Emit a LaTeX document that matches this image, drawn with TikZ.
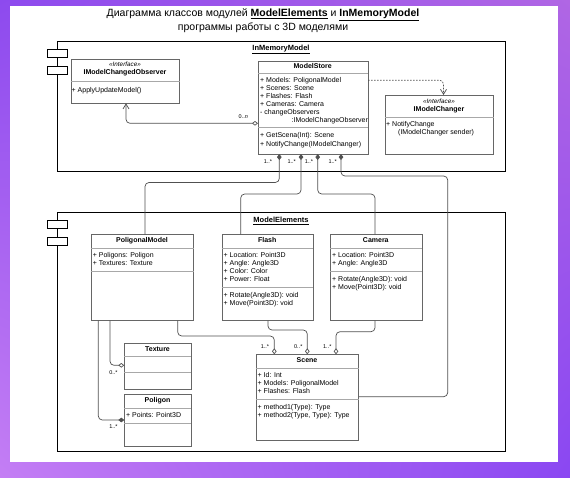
\documentclass[tikz,border=0pt]{standalone}
\usepackage{fontspec}
\setmainfont{Liberation Sans}
\usetikzlibrary{arrows.meta,calc,shadings}

\definecolor{bgUL}{HTML}{8D4AEE}
\definecolor{bgUR}{HTML}{B066E4}
\definecolor{bgLL}{HTML}{C47EF4}
\definecolor{bgLR}{HTML}{8A47F2}
\definecolor{boxgray}{HTML}{666666}
\definecolor{sepgray}{HTML}{A8A8A8}
\definecolor{linegray}{HTML}{505050}

\newcounter{lnc}
% one line of class text; optional style, position, content
\newcommand\cl[3][]{\stepcounter{lnc}\node[txt,#1] (l\arabic{lnc}) at (#2) {#3};}
% compartment separator of a class box at a given offset below its top
\newcommand\csep[2]{\draw[sepline] ($(#1.north west)+(0,#2)$) -- ($(#1.north east)+(0,#2)$);}

\tikzset{
  classbox/.style={draw=boxgray, line width=0.6pt, fill=white, inner sep=0pt, anchor=north west},
  sepline/.style={draw=sepgray, line width=0.6pt},
  conn/.style={draw=linegray, line width=0.7pt, rounded corners=4pt},
  txt/.style={font=\fontsize{7}{8}\selectfont, inner sep=0pt, anchor=west, text height=5.2pt, text depth=1.6pt},
  hdr/.style={font=\fontsize{7}{8}\selectfont\bfseries, anchor=center},
  stereo/.style={font=\fontsize{6.3}{7}\selectfont\itshape, anchor=center},
  mult/.style={font=\fontsize{5.5}{6}\selectfont, inner sep=0pt},
  pkgframe/.style={draw=black, line width=1pt, inner sep=0pt, anchor=north west},
  pkgicon/.style={draw=black, line width=0.9pt, fill=white, inner sep=0pt, anchor=north west,
                  minimum width=20pt, minimum height=8pt},
  pkglabel/.style={font=\fontsize{7.5}{8}\selectfont\bfseries},
  comp/.style={{Diamond[length=6pt,width=4.6pt]}-},
  aggr/.style={-{Diamond[fill=white,length=6pt,width=4.6pt]}},
  openhead/.style={-{Straight Barb[length=5pt,width=6pt]}},
}

\begin{document}
\begin{tikzpicture}[x=1pt,y=-1pt]
\useasboundingbox (0,0) rectangle (570,477);

% backdrop and sheet
\shade[upper left=bgUL, upper right=bgUR, lower left=bgLL, lower right=bgLR] (0,0) rectangle (570,477);
\fill[white] (10,6) rectangle (558,462);

% heading
\node[font=\fontsize{10.5}{12}\selectfont] (title1) at (263,15)
  {Диаграмма классов модулей \textbf{\underline{ModelElements}} и \textbf{\underline{InMemoryModel}}};
\node[font=\fontsize{10.5}{12}\selectfont] (title2) at (263,27.5) {программы работы с 3D моделями};

% packages
\node[pkgframe, minimum width=448pt, minimum height=130pt] (pkgA) at (57,41) {};
\node[pkgicon] (pkgAi1) at (47.3,48.5) {};
\node[pkgicon] (pkgAi2) at (47.3,65.5) {};
\node[pkglabel] (pkgAl) at (281,49.5) {\underline{InMemoryModel}};

\node[pkgframe, minimum width=448pt, minimum height=238.8pt] (pkgB) at (57,211.7) {};
\node[pkgicon] (pkgBi1) at (47.3,219.5) {};
\node[pkgicon] (pkgBi2) at (47.3,236.7) {};
\node[pkglabel] (pkgBl) at (281,220.7) {\underline{ModelElements}};

% ---- InMemoryModel classes ----
\node[classbox, minimum width=108.3pt, minimum height=43.7pt] (ioc) at (70.7,59) {};
\csep{ioc}{22.3}
\cl[stereo]{125,64.7}{<<Interface>>}
\cl[hdr]{125,73}{IModelChangedObserver}
\cl{71.5,90.7}{+ ApplyUpdateModel()}

\node[classbox, minimum width=109.5pt, minimum height=93pt] (ms) at (258,60.5) {};
\csep{ms}{12.8}
\csep{ms}{67.2}
\cl[hdr]{312.7,66.7}{ModelStore}
\cl{260,80.7}{+ Models: PoligonalModel}
\cl{260,88.7}{+ Scenes: Scene}
\cl{260,96.7}{+ Flashes: Flash}
\cl{260,104.8}{+ Cameras: Camera}
\cl{260,112.8}{- changeObservers}
\cl{291.5,120.7}{:IModelChangeObserver}
\cl{260,136}{+ GetScena(Int): Scene}
\cl{260,144.2}{+ NotifyChange(IModelChanger)}

\node[classbox, minimum width=108pt, minimum height=59pt] (imc) at (385,95) {};
\csep{imc}{22}
\cl[stereo]{439,101.7}{<<Interface>>}
\cl[hdr]{439,109.3}{IModelChanger}
\cl{386,124.3}{+ NotifyChange}
\cl{398,132.3}{(IModelChanger sender)}

% ---- ModelElements classes ----
\node[classbox, minimum width=102.6pt, minimum height=85.7pt] (pm) at (90.7,234.3) {};
\csep{pm}{14}
\csep{pm}{36.7}
\cl[hdr]{142,240.9}{PoligonalModel}
\cl{92.7,256}{+ Poligons: Poligon}
\cl{92.7,263.6}{+ Textures: Texture}

\node[classbox, minimum width=91pt, minimum height=85.7pt] (fl) at (221.7,234.3) {};
\csep{fl}{14}
\csep{fl}{53}
\cl[hdr]{267.2,240.9}{Flash}
\cl{223.5,256}{+ Location: Point3D}
\cl{223.5,263.8}{+ Angle: Angle3D}
\cl{223.5,271.6}{+ Color: Color}
\cl{223.5,279.4}{+ Power: Float}
\cl{223.5,295.6}{+ Rotate(Angle3D): void}
\cl{223.5,303.4}{+ Move(Point3D): void}

\node[classbox, minimum width=91.7pt, minimum height=85.7pt] (cam) at (330,234.3) {};
\csep{cam}{14}
\csep{cam}{37.4}
\cl[hdr]{375.8,240.9}{Camera}
\cl{332,256}{+ Location: Point3D}
\cl{332,263.8}{+ Angle: Angle3D}
\cl{332,279.4}{+ Rotate(Angle3D): void}
\cl{332,287.2}{+ Move(Point3D): void}

\node[classbox, minimum width=66.4pt, minimum height=46.3pt] (tex) at (124.3,342.7) {};
\csep{tex}{13.3}
\csep{tex}{29.6}
\cl[hdr]{157.5,349.4}{Texture}

\node[classbox, minimum width=66.4pt, minimum height=52pt] (pol) at (124.3,394) {};
\csep{pol}{14.3}
\csep{pol}{29.3}
\cl[hdr]{157.5,400.9}{Poligon}
\cl{126,416}{+ Points: Point3D}

\node[classbox, minimum width=102.6pt, minimum height=85.7pt] (sc) at (255.7,354.3) {};
\csep{sc}{14}
\csep{sc}{45}
\cl[hdr]{307,360.9}{Scene}
\cl{257.5,376}{+ Id: Int}
\cl{257.5,383.9}{+ Models: PoligonalModel}
\cl{257.5,391.8}{+ Flashes: Flash}
\cl{257.5,407.4}{+ method1(Type): Type}
\cl{257.5,415.6}{+ method2(Type, Type): Type}

% ---- connectors ----
% observers of the store
\draw[conn, {Diamond[fill=white,length=6pt,width=4.6pt]}-{Straight Barb[length=5pt,width=6pt]}]
  ($(ms.north west)+(0,62.8)$) -- (126,123.3) -- ($(ioc.south west)+(55.3,0)$);
\node[mult] (m0) at (243.3,116.3) {0..\textit{n}};

% store realises the changer interface
\draw[conn, dash pattern=on 1.6pt off 1.4pt, openhead]
  ($(ms.north east)+(0,19.7)$) -- (443.5,80.2) -- ($(imc.north west)+(58.5,0)$);

% store composes the elements
\draw[conn, comp] ($(ms.south west)+(21.3,0)$) -- (279.3,182.5) -- (145,182.5) -- ($(pm.north west)+(54.3,0)$);
\draw[conn, comp] ($(ms.south west)+(43,0)$) -- (301,194) -- (240.7,194) -- ($(fl.north west)+(19,0)$);
\draw[conn, comp] ($(ms.south west)+(59.7,0)$) -- (317.7,194) -- (375,194) -- ($(cam.north west)+(45,0)$);
\draw[conn, comp] ($(ms.south west)+(83,0)$) -- (341,176) -- (447.7,176) -- (447.7,396.7) -- ($(sc.north east)+(0,42.4)$);
\node[mult] (m1) at (268,161.3) {1..*};
\node[mult] (m2) at (291.7,161.3) {1..*};
\node[mult] (m3) at (309,161.3) {1..*};
\node[mult] (m4) at (332.7,161.3) {1..*};

% model parts
\draw[conn, -{Diamond[length=6pt,width=4.6pt]}] ($(pm.south west)+(7.6,0)$) -- (98.3,420) -- ($(pol.north west)+(0,26)$);
\node[mult] (m5) at (113.5,427) {1..*};
\draw[conn, aggr] ($(pm.south west)+(19.3,0)$) -- (110,365.3) -- ($(tex.north west)+(0,22.6)$);
\node[mult] (m6) at (113.5,372.3) {0..*};

% scene members
\draw[conn, aggr] ($(pm.south west)+(87,0)$) -- (177.7,336) -- (274.3,336) -- ($(sc.north west)+(18.6,0)$);
\draw[conn, aggr] ($(fl.south west)+(46.3,0)$) -- (268,330) -- (307.3,330) -- ($(sc.north west)+(51.6,0)$);
\draw[conn, aggr] ($(cam.south west)+(45,0)$) -- (375,331.7) -- (336,331.7) -- ($(sc.north west)+(80.3,0)$);
\node[mult] (m7) at (265,346.7) {1..*};
\node[mult] (m8) at (298.3,346.7) {0..*};
\node[mult] (m9) at (327.3,346.7) {1..*};

\end{tikzpicture}
\end{document}
